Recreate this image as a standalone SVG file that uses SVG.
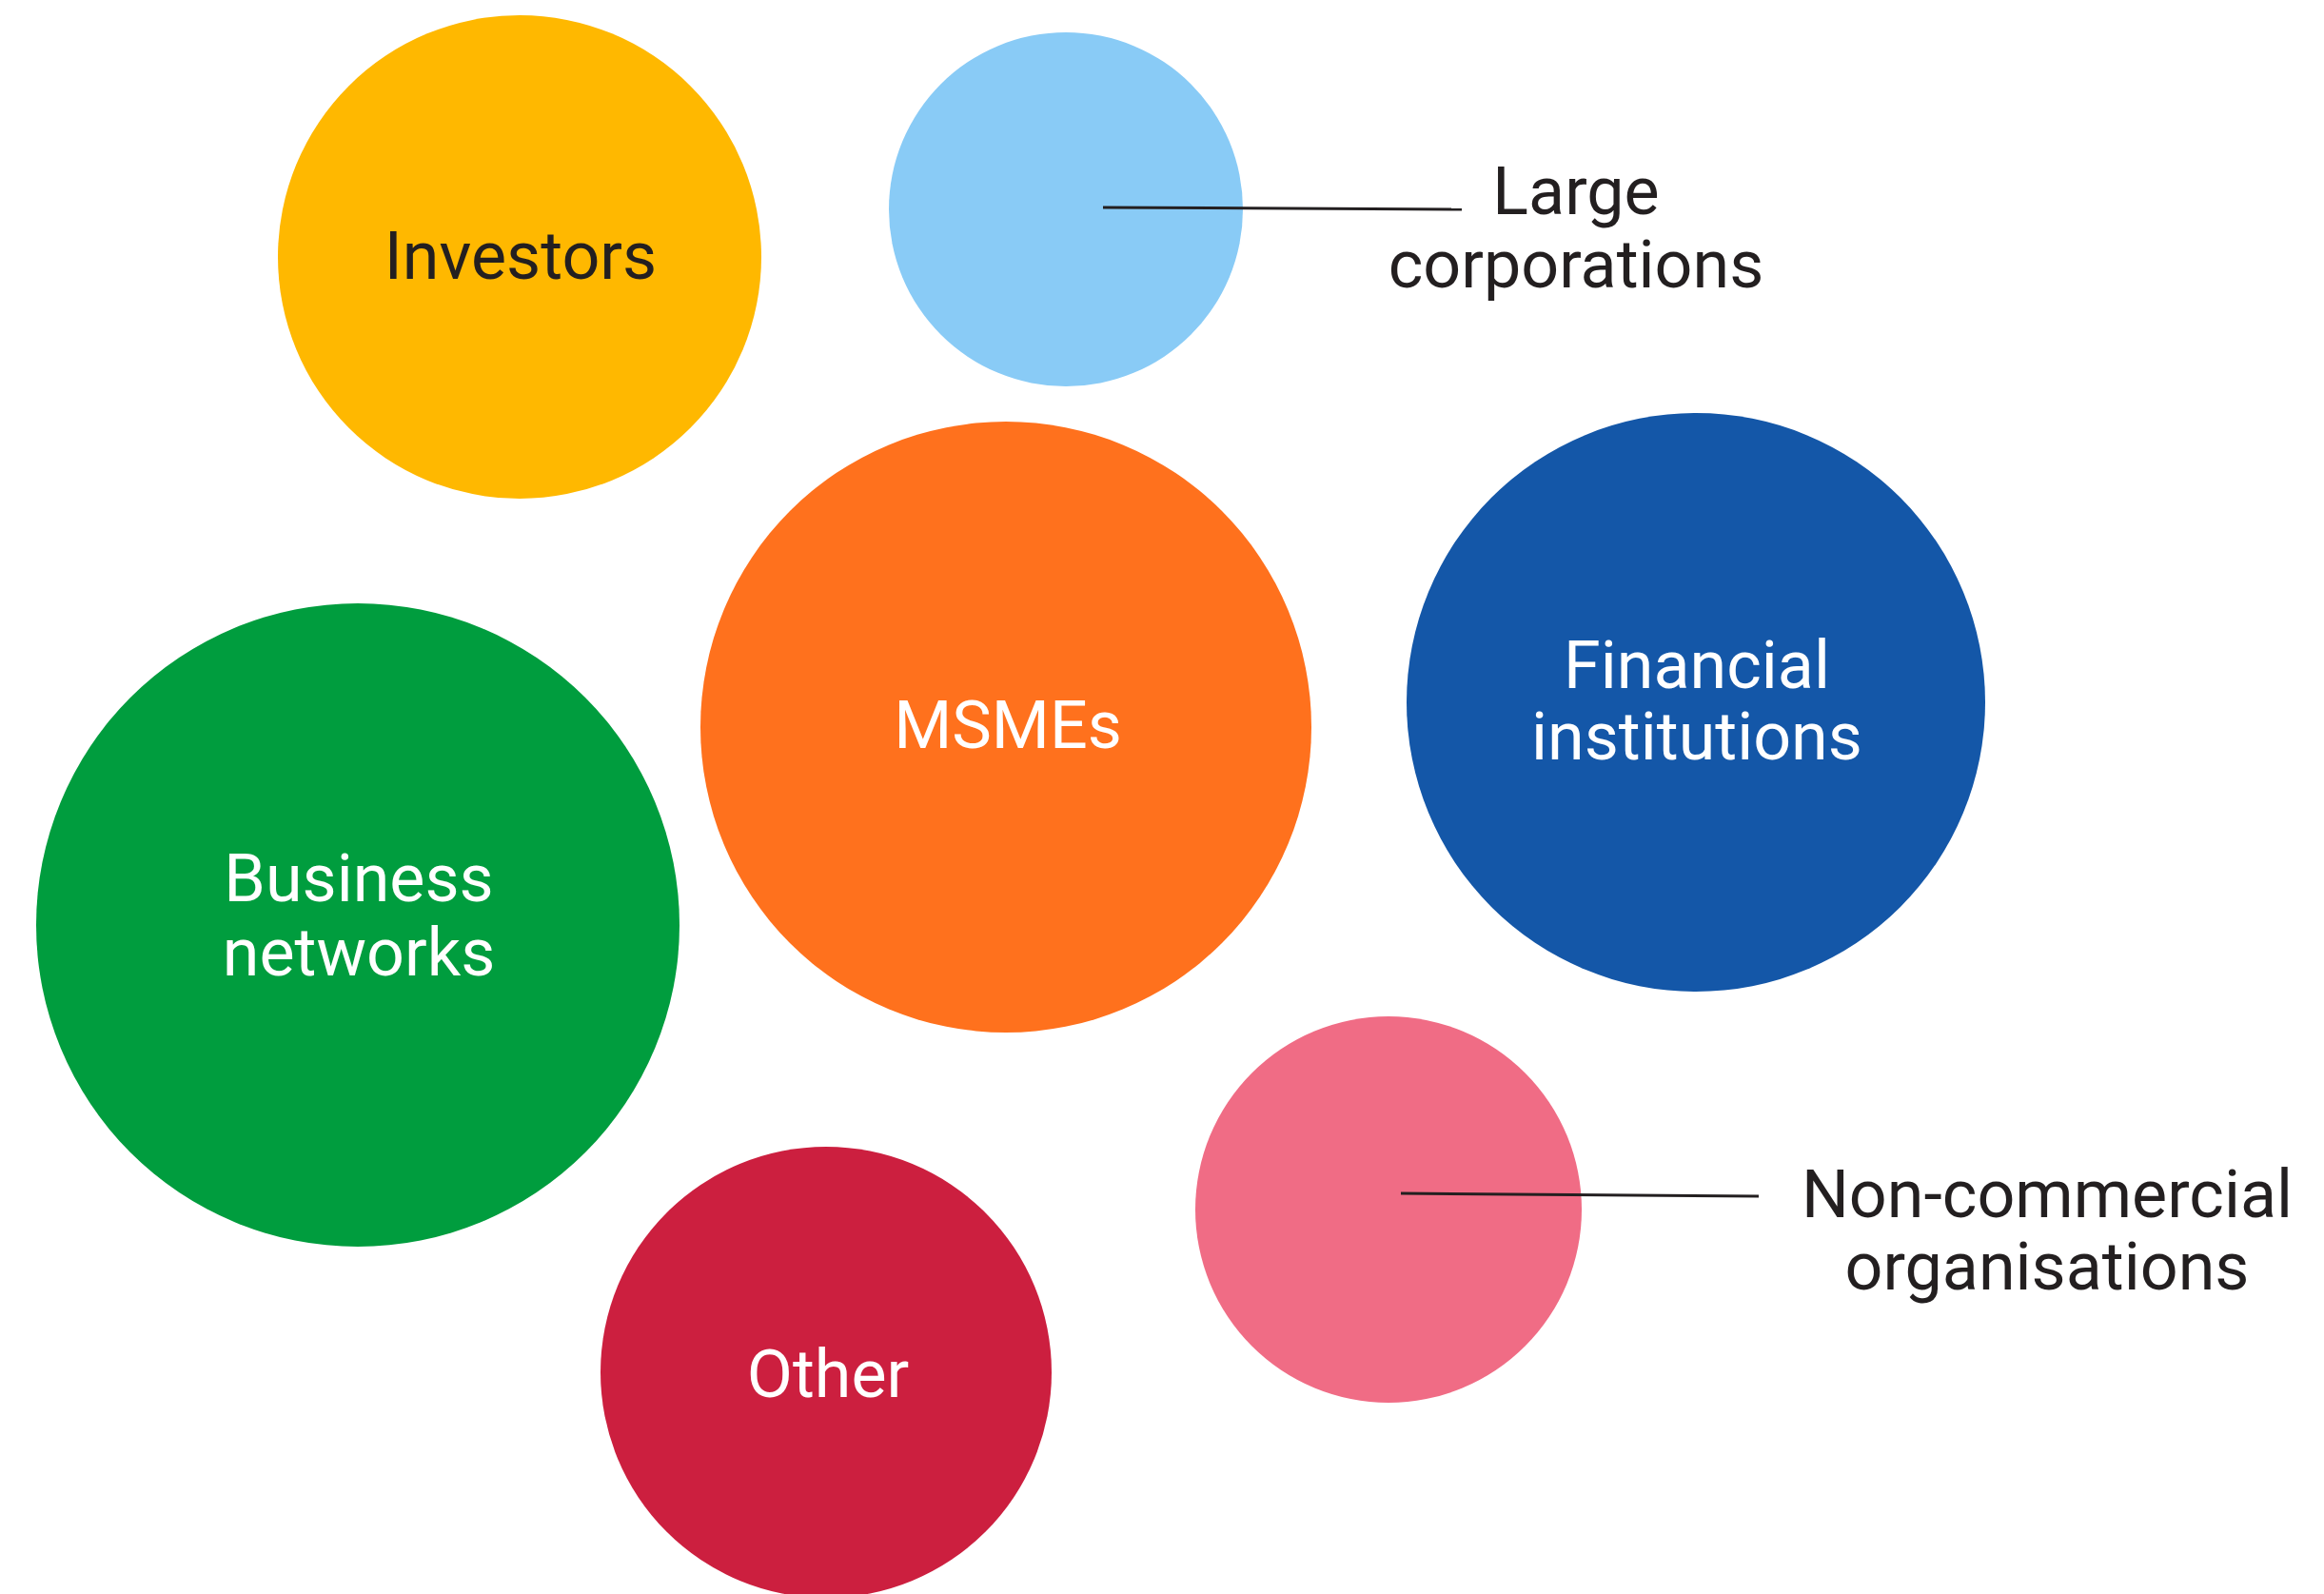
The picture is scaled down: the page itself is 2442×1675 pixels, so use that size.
<svg xmlns="http://www.w3.org/2000/svg" width="2442" height="1675" viewBox="0 0 2442 1675">
<style>
.lbl{font-family:Roboto,"Liberation Sans",sans-serif;font-size:70px;text-anchor:middle}
.dark{fill:#231F20}
.light{fill:#FFFFFF}
.conn{stroke:#231F20;stroke-width:3;fill:none}
</style>
<rect width="2442" height="1675" fill="#FFFFFF"/>
<g id="investors">
<circle cx="546" cy="270" r="254" fill="#FFB800"/>
<text class="lbl dark" x="547" y="293">Investors</text>
</g>
<g id="large-corporations">
<circle cx="1120" cy="220" r="186" fill="#89CBF6"/>
<text class="lbl dark" x="1656" y="225">Large</text>
<text class="lbl dark" x="1656" y="302">corporations</text>
</g>
<g id="msmes">
<circle cx="1057" cy="764" r="321" fill="#FF711D"/>
<text class="lbl light" x="1059" y="786">MSMEs</text>
</g>
<g id="financial-institutions">
<circle cx="1782" cy="738" r="304" fill="#1457A8"/>
<text class="lbl light" x="1783" y="723">Financial</text>
<text class="lbl light" x="1783" y="798">institutions</text>
</g>
<g id="business-networks">
<circle cx="376" cy="972" r="338" fill="#009D3E"/>
<text class="lbl light" x="377" y="947">Business</text>
<text class="lbl light" x="377" y="1025">networks</text>
</g>
<g id="other">
<circle cx="868" cy="1442" r="237" fill="#CC1F3F"/>
<text class="lbl light" x="870" y="1468">Other</text>
</g>
<g id="non-commercial-organisations">
<circle cx="1459" cy="1271" r="203" fill="#F06C85"/>
<text class="lbl dark" x="2151" y="1279">Non-commercial</text>
<text class="lbl dark" x="2151" y="1355">organisations</text>
</g>
<g id="connectors">
<line class="conn" x1="1159" y1="218" x2="1536" y2="220"/>
<line class="conn" x1="1472" y1="1254" x2="1848" y2="1257"/>
</g>
</svg>
